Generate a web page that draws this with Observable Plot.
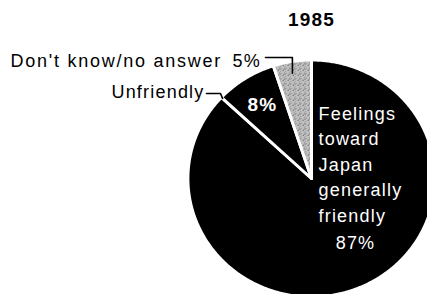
<!DOCTYPE html>
<html>
<head>
<meta charset="utf-8">
<script src="https://cdn.jsdelivr.net/npm/d3@7"></script>
<script src="https://cdn.jsdelivr.net/npm/@observablehq/plot@0.6"></script>
<style>
  html, body { margin: 0; padding: 0; background: #fff; }
  #chart { width: 427px; height: 294px; overflow: hidden; }
</style>
</head>
<body>
<div id="chart"></div>
<script>
// ---- data ----
const categories = ["Feelings toward Japan generally friendly", "Unfriendly", "Don't know/no answer"];
const values = [87, 8, 5];
const valueLabels = ["87%", "8%", "5%"];
const title = "1985";
const friendlyLines = ["Feelings", "toward", "Japan", "generally", "friendly"];

// ---- layout (unit-circle space) ----
const FILL = ["#000", "#000", "url(#stipple)"];
const R = 1.013; // compensates for white outline
const cx = 311, cy = 178, rx = 122, ry = 117;
const ux = px => (px - cx) / rx;
const uy = py => (cy - py) / ry;

const pie = d3.pie().sort(null).value(d => d.value);
const arcs = pie(categories.map((c, i) => ({category: c, value: values[i]})));

function slicePoints(a) {
  const pts = [{x: 0, y: 0}];
  const n = Math.max(2, Math.ceil((a.endAngle - a.startAngle) / 0.01));
  for (let k = 0; k <= n; k++) {
    const t = a.startAngle + (a.endAngle - a.startAngle) * k / n;
    pts.push({x: R * Math.sin(t), y: R * Math.cos(t)});
  }
  return pts;
}

const sliceMarks = arcs.map((a, i) =>
  Plot.line(slicePoints(a), {x: "x", y: "y", fill: FILL[i], stroke: "white", strokeWidth: 3, curve: "linear-closed"})
);

// leader lines anchored to slice geometry
const dk = arcs[2], unf = arcs[1];
const dkMid = (dk.startAngle + dk.endAngle) / 2;
const dkLeader = [
  {x: ux(265), y: uy(57)},
  {x: Math.sin(dkMid), y: uy(57)},
  {x: Math.sin(dkMid), y: 0.9}
];
const sep = unf.startAngle;
const unfLeader = [
  {x: ux(206), y: uy(93)},
  {x: ux(220), y: uy(93)},
  {x: Math.sin(sep) * 1.0, y: Math.cos(sep) * 1.0}
];

const font = "'Liberation Sans', Arial, Helvetica, sans-serif";

const svg = Plot.plot({
  width: 427,
  height: 294,
  margin: 0,
  x: {domain: [-1, 1], range: [cx - rx, cx + rx], axis: null},
  y: {domain: [-1, 1], range: [cy + ry, cy - ry], axis: null},
  style: {fontFamily: font, letterSpacing: "1.2px", background: "white", color: "black", overflow: "hidden"},
  marks: [
    ...sliceMarks,
    Plot.line(dkLeader, {x: "x", y: "y", stroke: "black", strokeWidth: 1.6}),
    Plot.line(unfLeader, {x: "x", y: "y", stroke: "black", strokeWidth: 1.6}),
    Plot.text([title], {x: 0, y: uy(25), text: d => d, fontSize: 19, fontWeight: "bold", lineAnchor: "bottom", textAnchor: "middle", fill: "black"}),
    Plot.text([categories[2]], {x: ux(10), y: uy(66), text: d => d, fontSize: 18, lineAnchor: "bottom", textAnchor: "start", fill: "black"}),
    Plot.text([valueLabels[2]], {x: ux(232), y: uy(66), text: d => d, fontSize: 18, lineAnchor: "bottom", textAnchor: "start", fill: "black"}),
    Plot.text([categories[1]], {x: ux(204), y: uy(97), text: d => d, fontSize: 18, lineAnchor: "bottom", textAnchor: "end", fill: "black"}),
    Plot.text([valueLabels[1]], {x: ux(262), y: uy(110), text: d => d, fontSize: 19, fontWeight: "bold", lineAnchor: "bottom", textAnchor: "middle", fill: "white"}),
    Plot.text([friendlyLines.join("\n")], {x: ux(318), y: uy(221), text: d => d, fontSize: 18, lineHeight: 1.41, lineAnchor: "bottom", textAnchor: "start", fill: "white"}),
    Plot.text([valueLabels[0]], {x: ux(355), y: uy(248), text: d => d, fontSize: 18, lineAnchor: "bottom", textAnchor: "middle", fill: "white"})
  ]
});

// widen the "don't know" label's tracking to match the original typesetting
svg.querySelectorAll("text").forEach(t => {
  if (t.textContent === categories[2]) t.style.letterSpacing = "1.75px";
});

// stipple pattern for the "don't know" slice
const ns = "http://www.w3.org/2000/svg";
const defs = document.createElementNS(ns, "defs");
const pat = document.createElementNS(ns, "pattern");
pat.setAttribute("id", "stipple");
pat.setAttribute("width", 5);
pat.setAttribute("height", 5);
pat.setAttribute("patternUnits", "userSpaceOnUse");
const bg = document.createElementNS(ns, "rect");
bg.setAttribute("width", 5); bg.setAttribute("height", 5); bg.setAttribute("fill", "#dcdcdc");
pat.appendChild(bg);
[[0,0],[2,0],[4,1],[1,2],[3,2],[0,3],[2,4],[4,3],[3,4]].forEach(([a, b]) => {
  const r = document.createElementNS(ns, "rect");
  r.setAttribute("x", a); r.setAttribute("y", b); r.setAttribute("width", 1); r.setAttribute("height", 1);
  r.setAttribute("fill", "#666");
  pat.appendChild(r);
});
defs.appendChild(pat);
svg.insertBefore(defs, svg.firstChild);

document.getElementById("chart").appendChild(svg);
</script>
</body>
</html>
